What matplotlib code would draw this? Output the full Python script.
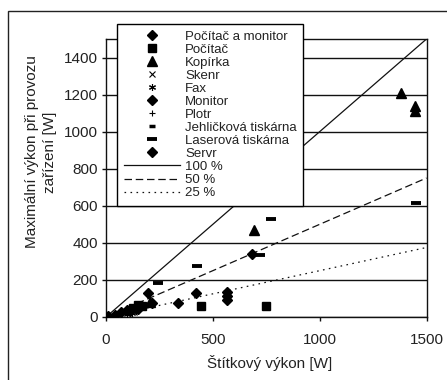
import numpy as np
import matplotlib
matplotlib.use("Agg")
import matplotlib.pyplot as plt
from matplotlib.patches import Rectangle

plt.rcParams["font.family"] = ["Liberation Sans", "DejaVu Sans"]

# ---- data (W) ----
pc_monitor_x = [198, 214, 339, 421, 566, 566, 566, 684]
pc_monitor_y = [131, 74, 74, 128, 137, 115, 92, 340]

pc_x = [128, 152, 170, 445, 751]
pc_y = [48, 65, 60, 61, 61]

kopirka_x = [1382, 1445, 1445, 691, 205]
kopirka_y = [1210, 1140, 1110, 470, 80]

skenr_x = [60, 100, 130]
skenr_y = [15, 22, 25]

fax_x = [90, 120, 140]
fax_y = [30, 20, 35]

monitor_x = [40, 70, 110, 150]
monitor_y = [10, 25, 35, 45]

plotr_x = [100]
plotr_y = [12]

jehlickova_x = [50, 80]
jehlickova_y = [20, 35]

laser_x = [245, 425, 720, 771, 1453]
laser_y = [185, 275, 335, 529, 614]

servr_x = [10, 100]
servr_y = [4, 40]

ratio_x = [0, 1500]
ratios = [1.0, 0.5, 0.25]

series = [
    ("Počítač a monitor", pc_monitor_x, pc_monitor_y, "D", 5.0, 1.0),
    ("Počítač", pc_x, pc_y, "s", 6.0, 1.0),
    ("Kopírka", kopirka_x, kopirka_y, "^", 6.5, 1.0),
    ("Skenr", skenr_x, skenr_y, "x", 4.5, 0.8),
    ("Fax", fax_x, fax_y, (6, 2, 0), 5.0, 0.8),
    ("Monitor", monitor_x, monitor_y, "D", 5.0, 1.0),
    ("Plotr", plotr_x, plotr_y, "+", 5.0, 0.8),
    ("Jehličková tiskárna", jehlickova_x, jehlickova_y, "_", 4.5, 2.5),
    ("Laserová tiskárna", laser_x, laser_y, "_", 7.0, 2.8),
    ("Servr", servr_x, servr_y, "D", 5.0, 1.0),
]

fig = plt.figure(figsize=(4.47, 3.8), dpi=100, facecolor="white")

# outer chart frame (left and top edges visible)
fig.patches.append(Rectangle((8 / 447, -0.1), 1.2, 1 - 11 / 380 + 0.1,
                             transform=fig.transFigure, fill=False,
                             edgecolor="#222222", linewidth=1.0))

ax = fig.add_axes([106 / 447, 1 - 317 / 380, 320.5 / 447, 278 / 380])

handles = []
for label, xs, ys, mk, ms, mew in series:
    h, = ax.plot(xs, ys, linestyle="none", marker=mk, markersize=ms,
                 color="black", markeredgewidth=mew, label=label, zorder=4)
    handles.append(h)

styles = [("100 %", "-", None), ("50 %", "--", (6, 3)), ("25 %", ":", (1.3, 3.5))]
for r, (label, ls, dsh) in zip(ratios, styles):
    ys = [v * r for v in ratio_x]
    kw = {}
    if dsh is not None:
        kw["dashes"] = dsh
    h, = ax.plot(ratio_x, ys, color="#111111", lw=0.9, linestyle=ls,
                 label=label, zorder=3, **kw)
    handles.append(h)

ax.set_xlim(0, 1500)
ax.set_ylim(0, 1500)
ax.set_xticks([0, 500, 1000, 1500])
ax.set_yticks(np.arange(0, 1401, 200))
ax.yaxis.grid(True, color="#111111", linewidth=1.0)
ax.set_axisbelow(True)

for sp in ax.spines.values():
    sp.set_color("#111111")
    sp.set_linewidth(1.0)

ax.tick_params(axis="both", direction="out", length=3, width=1.0,
               colors="#111111", labelsize=11, labelcolor="#222222")
ax.tick_params(axis="x", pad=8.5)
ax.tick_params(axis="y", pad=3)

fig.text(270 / 447, 1 - 363 / 380, "Štítkový výkon [W]", ha="center",
         va="center", fontsize=11, color="#222222")
fig.text(41 / 447, 1 - 152 / 380,
         "Maximální výkon při provozu\nzařízení [W]", ha="center",
         va="center", rotation=90, fontsize=11, color="#222222",
         multialignment="center", linespacing=1.3)

leg = fig.legend(handles=handles, loc="upper left",
                 bbox_to_anchor=(117 / 447, 1 - 24 / 380), borderaxespad=0,
                 fontsize=9.5, frameon=True, fancybox=False, framealpha=1.0,
                 edgecolor="black", borderpad=0.5, labelspacing=0.06,
                 handlelength=4.3, handletextpad=0.35, handleheight=0.7,
                 numpoints=1)
leg.get_frame().set_linewidth(1.0)
for t in leg.get_texts():
    t.set_color("#222222")

fig.savefig("out.png", dpi=100, facecolor="white")
